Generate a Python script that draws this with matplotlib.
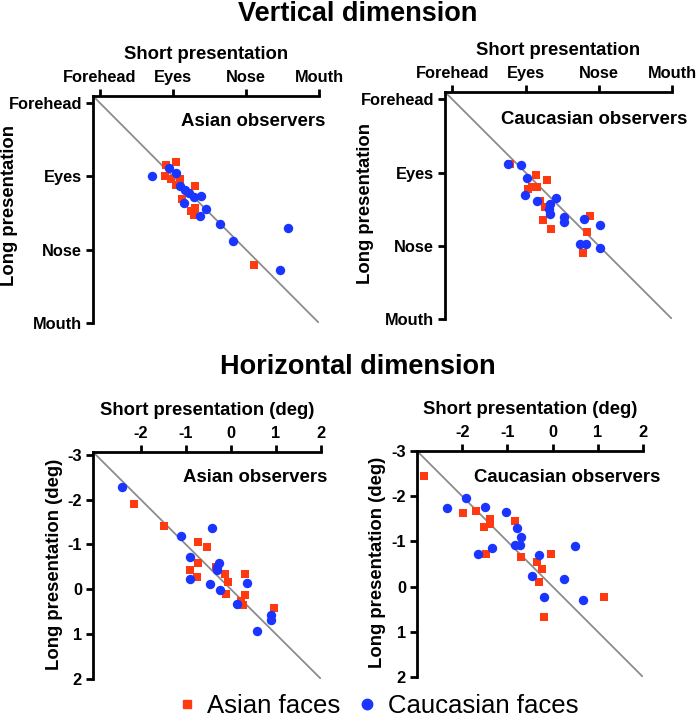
import matplotlib
matplotlib.use("Agg")
import matplotlib.pyplot as plt
from matplotlib.lines import Line2D

plt.rcParams['font.family'] = ['Liberation Sans', 'DejaVu Sans']

W, H = 697, 723

# ---------------- data ----------------
face_labels = ["Forehead", "Eyes", "Nose", "Mouth"]
deg_xticks = [-2, -1, 0, 1, 2]
deg_yticks = [-3, -2, -1, 0, 1, 2]

# Vertical dimension, Asian observers (0=Forehead,1=Eyes,2=Nose,3=Mouth)
v_as_red_x = [0.91, 1.05, 0.90, 0.98, 1.04, 1.10, 1.31, 1.13, 1.31, 1.29, 1.25, 2.11]
v_as_red_y = [0.85, 0.81, 1.00, 1.04, 1.12, 1.04, 1.14, 1.31, 1.44, 1.53, 1.47, 2.21]
v_as_blue_x = [0.72, 0.95, 1.05, 1.10, 1.17, 1.22, 1.29, 1.38, 1.16, 1.46, 1.37, 1.65, 1.83, 2.57, 2.46]
v_as_blue_y = [1.00, 0.89, 0.96, 1.13, 1.19, 1.23, 1.28, 1.27, 1.37, 1.45, 1.55, 1.65, 1.89, 1.71, 2.28]

# Vertical dimension, Caucasian observers
v_ca_red_x = [0.79, 1.14, 1.29, 1.09, 1.16, 1.04, 1.20, 1.26, 1.24, 1.35, 1.88, 1.84, 1.78]
v_ca_red_y = [0.89, 1.03, 1.10, 1.20, 1.20, 1.22, 1.39, 1.47, 1.65, 1.77, 1.59, 1.81, 2.10]
v_ca_blue_x = [0.76, 0.94, 1.02, 0.99, 1.16, 1.41, 1.34, 1.32, 1.33, 1.52, 1.52, 1.80, 2.01, 1.75, 1.83, 2.01]
v_ca_blue_y = [0.89, 0.90, 1.08, 1.31, 1.39, 1.35, 1.43, 1.50, 1.56, 1.61, 1.68, 1.64, 1.72, 1.98, 1.98, 2.03]

# Horizontal dimension, Asian observers (deg)
h_as_red_x = [-2.16, -1.48, -0.74, -0.52, -0.73, -0.90, -0.76, -0.33, -0.13, -0.06, -0.11, 0.31, 0.32, 0.22, 0.28, 0.96]
h_as_red_y = [-1.89, -1.42, -1.05, -0.94, -0.58, -0.44, -0.27, -0.50, -0.33, -0.16, 0.10, -0.33, 0.13, 0.27, 0.36, 0.41]
h_as_blue_x = [-2.41, -1.10, -0.41, -0.91, -0.26, -0.30, -0.31, -0.90, -0.47, -0.24, 0.36, 0.13, 0.90, 0.89, 0.57]
h_as_blue_y = [-2.29, -1.18, -1.36, -0.73, -0.58, -0.50, -0.42, -0.24, -0.11, 0.02, -0.15, 0.33, 0.58, 0.69, 0.92]

# Horizontal dimension, Caucasian observers (deg)
h_ca_red_x = [-2.84, -1.99, -1.69, -1.39, -1.51, -1.38, -1.47, -0.84, -0.69, -0.34, -0.23, -0.03, -0.30, -0.19, 1.14]
h_ca_red_y = [-2.44, -1.62, -1.67, -1.50, -1.32, -1.39, -0.73, -1.45, -0.65, -0.54, -0.40, -0.73, -0.10, 0.67, 0.23]
h_ca_blue_x = [-2.34, -1.91, -1.49, -1.02, -0.78, -0.69, -1.64, -1.33, -0.84, -0.73, -0.30, 0.49, -0.45, 0.25, -0.18, 0.68]
h_ca_blue_y = [-1.74, -1.95, -1.76, -1.65, -1.30, -1.10, -0.73, -0.85, -0.91, -0.91, -0.70, -0.90, -0.23, -0.16, 0.23, 0.30]

RED = '#FF3A10'
BLUE = '#1A35FF'
GREY = '#8C8C8C'

fig = plt.figure(figsize=(W / 100, H / 100), dpi=100)


def box(l, t, r, b):
    return [l / W, 1 - b / H, (r - l) / W, (b - t) / H]


def fx(x):
    return x / W


def fy(y):
    return 1 - y / H


def style(ax):
    for s in ['right', 'bottom']:
        ax.spines[s].set_visible(False)
    for s in ['left', 'top']:
        ax.spines[s].set_linewidth(2)
    ax.xaxis.set_ticks_position('top')
    ax.tick_params(axis='both', direction='out', length=5, width=2, pad=3,
                   labelsize=11.8)
    for lab in ax.get_xticklabels() + ax.get_yticklabels():
        lab.set_fontweight('bold')


def panel(px, lo, hi, rx, ry, bx, by, xt, xtl, yt, ytl, xlabel, ylabel, ylab_px):
    l, t, r, b = px
    ax = fig.add_axes(box(l, t, r, b))
    ax.set_xlim(lo, hi)
    ax.set_ylim(hi, lo)
    ax.plot([lo, hi], [lo, hi], color=GREY, lw=1.3, zorder=1)
    ax.scatter(rx, ry, marker='s', s=28, color=RED, linewidths=0, zorder=2)
    ax.scatter(bx, by, marker='o', s=46, color=BLUE, linewidths=0, zorder=3)
    ax.set_xticks(xt)
    ax.set_xticklabels(xtl)
    ax.set_yticks(yt)
    ax.set_yticklabels(ytl)
    style(ax)
    ax.set_xlabel(xlabel, fontsize=13.3, fontweight='bold', labelpad=8)
    ax.xaxis.set_label_position('top')
    ax.set_ylabel(ylabel, fontsize=13.3, fontweight='bold')
    # y label: pixel position of its right edge (text bottom) and vertical centre
    cx, cy = ylab_px
    ax.yaxis.set_label_coords((cx - l) / (r - l), (b - cy) / (b - t))
    return ax


fv = [0, 1, 2, 3]
ax1 = panel((93, 96, 319, 323), -0.09, 3, v_as_red_x, v_as_red_y, v_as_blue_x, v_as_blue_y,
            fv, face_labels, fv, face_labels,
            "Short presentation", "Long presentation", (18, 206))
ax2 = panel((445, 92, 672, 319), -0.1, 3, v_ca_red_x, v_ca_red_y, v_ca_blue_x, v_ca_blue_y,
            fv, face_labels, fv, face_labels,
            "Short presentation", "Long presentation", (374, 203))
ax3 = panel((93, 452, 321, 679), -3.06, 2, h_as_red_x, h_as_red_y, h_as_blue_x, h_as_blue_y,
            deg_xticks, [str(v) for v in deg_xticks], deg_yticks, [str(v) for v in deg_yticks],
            "Short presentation (deg)", "Long presentation (deg)", (63, 564))
ax4 = panel((417, 451, 643, 677), -3.0, 2, h_ca_red_x, h_ca_red_y, h_ca_blue_x, h_ca_blue_y,
            deg_xticks, [str(v) for v in deg_xticks], deg_yticks, [str(v) for v in deg_yticks],
            "Short presentation (deg)", "Long presentation (deg)", (386, 562))

# in-panel titles
tkw = dict(ha='center', va='center', fontsize=13.4, fontweight='bold')
fig.text(fx(253), fy(121), "Asian observers", **tkw)
fig.text(fx(594), fy(119), "Caucasian observers", **tkw)
fig.text(fx(255), fy(477), "Asian observers", **tkw)
fig.text(fx(567), fy(477), "Caucasian observers", **tkw)

# section titles
fig.text(fx(358), fy(14), "Vertical dimension", ha='center', va='center', fontsize=19.5, fontweight='bold')
fig.text(fx(358), fy(367), "Horizontal dimension", ha='center', va='center', fontsize=19.5, fontweight='bold')

# legend
handles = [Line2D([], [], marker='s', color=RED, ls='none', markersize=6),
           Line2D([], [], marker='o', color=BLUE, ls='none', markersize=7.5)]
fig.legend(handles, ["Asian faces", "Caucasian faces"], loc='center',
           bbox_to_anchor=(fx(376), fy(706)), ncol=2, frameon=False, fontsize=18.5,
           handletextpad=0.3, columnspacing=0.55, handlelength=1.0)

fig.savefig("out.png", dpi=100)
